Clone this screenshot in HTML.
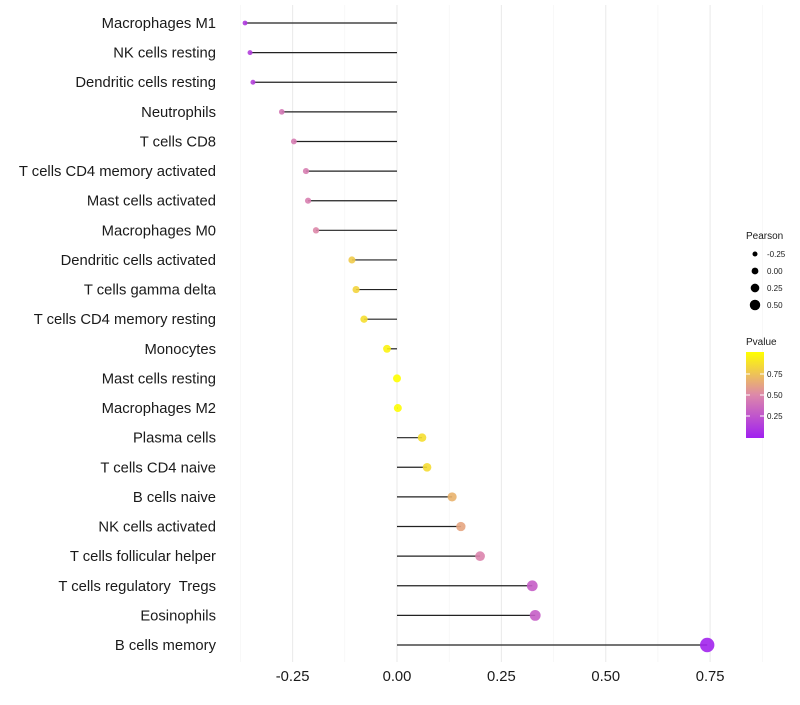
<!DOCTYPE html>
<html><head><meta charset="utf-8"><style>body{margin:0;background:#fff}svg text{font-family:"Liberation Sans",sans-serif;white-space:pre}</style></head>
<body>
<svg id="chart" width="800" height="700" xmlns="http://www.w3.org/2000/svg"></svg>
<script>
const categories=["Macrophages M1","NK cells resting","Dendritic cells resting","Neutrophils","T cells CD8","T cells CD4 memory activated","Mast cells activated","Macrophages M0","Dendritic cells activated","T cells gamma delta","T cells CD4 memory resting","Monocytes","Mast cells resting","Macrophages M2","Plasma cells","T cells CD4 naive","B cells naive","NK cells activated","T cells follicular helper","T cells regulatory  Tregs","Eosinophils","B cells memory"];
const pearson=[-0.364,-0.352,-0.345,-0.276,-0.247,-0.218,-0.213,-0.194,-0.108,-0.098,-0.079,-0.024,0.0,0.002,0.06,0.072,0.132,0.153,0.199,0.324,0.331,0.743];
const pvalue=[0.12,0.15,0.16,0.42,0.44,0.45,0.46,0.5,0.78,0.82,0.86,0.95,1.0,0.99,0.86,0.85,0.68,0.62,0.48,0.3,0.3,0.02];
const xTicks=[-0.25,0,0.25,0.5,0.75];
const xTickLabels=["-0.25","0.00","0.25","0.50","0.75"];
const sizeLegend=[-0.25,0,0.25,0.5];
const pTicks=[0.25,0.5,0.75];
const svg=document.getElementById('chart');const NS="http://www.w3.org/2000/svg";
function mk(t,a,p){const e=document.createElementNS(NS,t);for(const k in a)e.setAttribute(k,a[k]);(p||svg).appendChild(e);return e;}
const x=v=>397+v*417.5;
const y=i=>23+i*(622/21);
const r=v=>4.0+4.3*v;
function lerp(a,b,t){return a.map((c,i)=>Math.round(c+(b[i]-c)*t));}
function col(p){const s=[[160,32,240],[221,136,170],[255,255,0]];const c=p<0.5?lerp(s[0],s[1],p/0.5):lerp(s[1],s[2],(p-0.5)/0.5);return `rgb(${c})`;}
for(let k=-3;k<=7;k++){const v=k*0.125;const g=mk('line',{x1:x(v),x2:x(v),y1:5,y2:662,stroke:k%2===0?'#ebebeb':'#f3f3f3','stroke-width':k%2===0?1.1:0.6});

}
categories.forEach((c,i)=>{
 const l=mk('line',{x1:x(0),x2:x(pearson[i]),y1:y(i),y2:y(i),stroke:'#222','stroke-width':1.2});
 
 
 const d=mk('circle',{cx:x(pearson[i]),cy:y(i),r:r(pearson[i]),fill:col(pvalue[i]),'fill-opacity':0.9});
 
 
 const t=mk('text',{x:216,y:y(i)+5,'text-anchor':'end','font-size':14.8,fill:'#1a1a1a'});t.textContent=c;
 
 
});
xTicks.forEach((v,i)=>{const t=mk('text',{x:x(v),y:681,'text-anchor':'middle','font-size':14.8,fill:'#1a1a1a'});t.textContent=xTickLabels[i];

});
let t=mk('text',{x:746,y:239,'font-size':10,fill:'#1a1a1a'});t.textContent="Pearson";


sizeLegend.forEach((v,i)=>{const cy=254+i*17;const c=mk('circle',{cx:755,cy:cy,r:r(v)*0.85,fill:'#000'});


const tt=mk('text',{x:767,y:cy+3,'font-size':8,fill:'#1a1a1a'});tt.textContent=v.toFixed(2);

});
t=mk('text',{x:746,y:345,'font-size':10,fill:'#1a1a1a'});t.textContent="Pvalue";


const defs=mk('defs',{});const gr=mk('linearGradient',{id:'pg',x1:0,y1:1,x2:0,y2:0},defs);
[0,0.25,0.5,0.75,1].forEach(o=>mk('stop',{offset:o,'stop-color':col(o)},gr));
const bar=mk('rect',{x:746,y:352,width:18,height:86,fill:'url(#pg)'});


const py=p=>437-p*84;
pTicks.forEach(p=>{mk('line',{x1:746,x2:750,y1:py(p),y2:py(p),stroke:'#fff'});mk('line',{x1:760,x2:764,y1:py(p),y2:py(p),stroke:'#fff'});
const tt=mk('text',{x:767,y:py(p)+3,'font-size':8,fill:'#1a1a1a'});tt.textContent=p.toFixed(2);

});
</script>
</body></html>
